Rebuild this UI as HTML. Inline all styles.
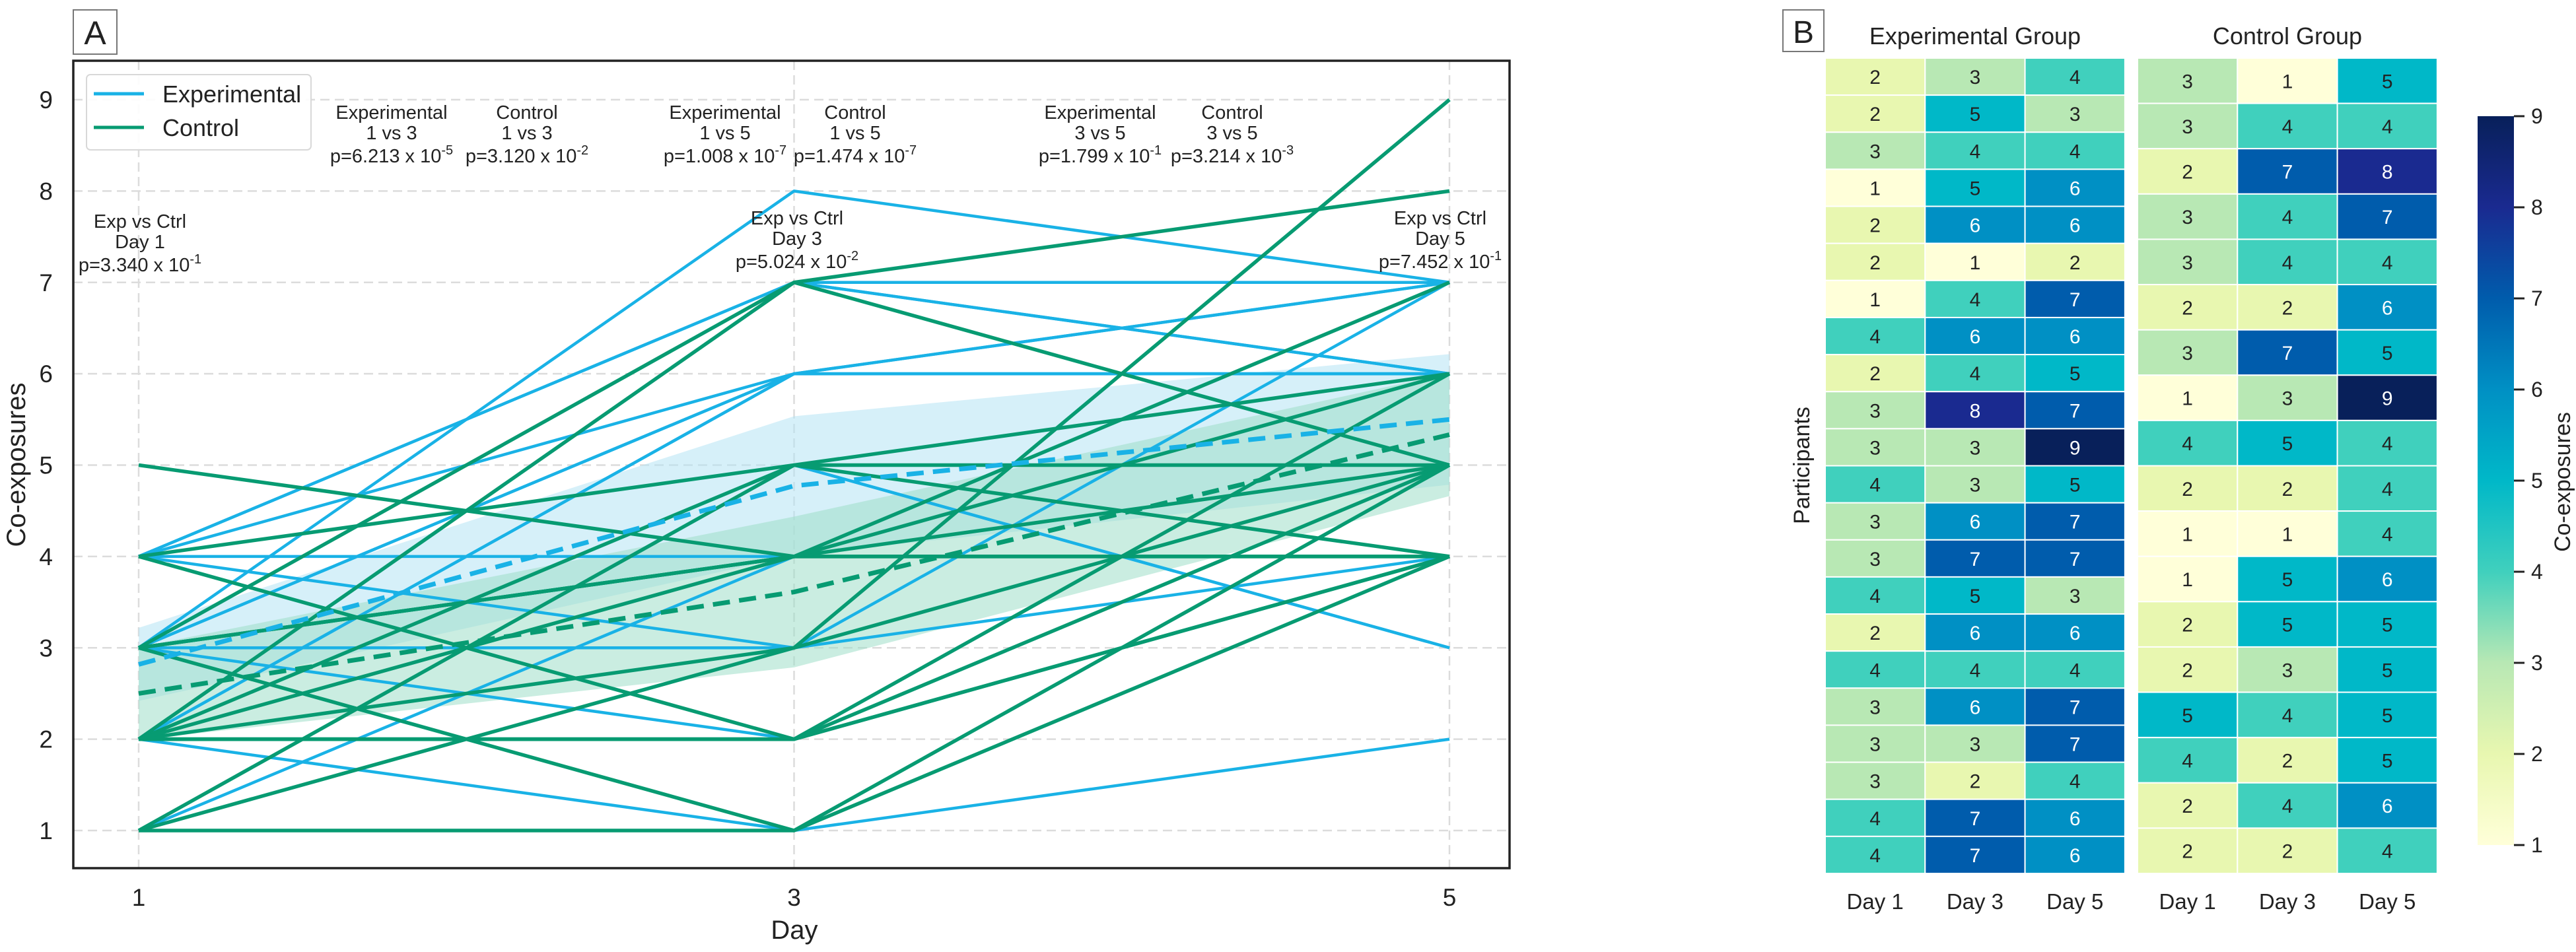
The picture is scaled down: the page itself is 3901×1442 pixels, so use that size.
<!DOCTYPE html>
<html><head><meta charset="utf-8"><style>
html,body{margin:0;padding:0;background:#fff;}
svg{display:block;font-family:"Liberation Sans",Arial,sans-serif;}
</style></head><body>
<svg id="fig" xmlns="http://www.w3.org/2000/svg" width="3901" height="1442" viewBox="0 0 3901 1442">
<rect width="3901" height="1442" fill="#fff"/>
</svg>
<script>
// ---- data ----
const days = [1, 3, 5];
const expDay1 = [2,2,3,1,2,2,1,4,2,3,3,4,3,3,4,2,4,3,3,3,4,4];
const expDay3 = [3,5,4,5,6,1,4,6,4,8,3,3,6,7,5,6,4,6,3,2,7,7];
const expDay5 = [4,3,4,6,6,2,7,6,5,7,9,5,7,7,3,6,4,7,7,4,6,6];
const ctrlDay1 = [3,3,2,3,3,2,3,1,4,2,1,1,2,2,5,4,2,2];
const ctrlDay3 = [1,4,7,4,4,2,7,3,5,2,1,5,5,3,4,2,4,2];
const ctrlDay5 = [5,4,8,7,4,6,5,9,4,4,4,6,5,5,5,5,6,4];
const yTicks = [1,2,3,4,5,6,7,8,9];
const xTickLabels = ["1","3","5"];
const colTickLabels = ["Day 1","Day 3","Day 5"];
const cbTicks = [1,2,3,4,5,6,7,8,9];
const annotTop = [
  ["Experimental","1 vs 3","6.213","-5"],["Control","1 vs 3","3.120","-2"],
  ["Experimental","1 vs 5","1.008","-7"],["Control","1 vs 5","1.474","-7"],
  ["Experimental","3 vs 5","1.799","-1"],["Control","3 vs 5","3.214","-3"]];
const annotDay = [["Day 1","3.340","-1"],["Day 3","5.024","-2"],["Day 5","7.452","-1"]];

const NS="http://www.w3.org/2000/svg";
const svg=document.getElementById('fig');
function mk(tag,attrs,parent){const e=document.createElementNS(NS,tag);for(const k in attrs)e.setAttribute(k,attrs[k]);(parent||svg).appendChild(e);return e;}
// axes scales
const L=111,R=2286,T=92,B=1315;
const xS=d=>210+(d-1)*(2195-210)/4;
const yS=v=>1258-(v-1)*(1258-151)/8;
const EXP="#19b2e6", CTRL="#079b72";

// panel A label
let g=mk('g',{});


mk('rect',{x:111,y:15,width:66,height:67,fill:'#fff',stroke:'#777','stroke-width':2},g);
let t=mk('text',{x:144,y:67,'font-size':50,'text-anchor':'middle',fill:'#222'},g);t.textContent='A';

// grid
const grid=mk('g',{});


yTicks.forEach(v=>{mk('line',{x1:L,x2:R,y1:yS(v),y2:yS(v),stroke:'#dcdcdc','stroke-width':2.5,'stroke-dasharray':'14,8'},grid);});
days.forEach(d=>{mk('line',{x1:xS(d),x2:xS(d),y1:T,y2:B,stroke:'#dcdcdc','stroke-width':2.5,'stroke-dasharray':'14,8'},grid);});

// stats
function stats(arr){const n=arr.length,m=arr.reduce((a,b)=>a+b,0)/n;const sd=Math.sqrt(arr.reduce((a,b)=>a+(b-m)*(b-m),0)/(n-1));return [m,1.96*sd/Math.sqrt(n)];}
const expCols=[expDay1,expDay3,expDay5], ctrlCols=[ctrlDay1,ctrlDay3,ctrlDay5];
function band(cols,fill,name){const s=cols.map(stats);
  let d='M'+days.map((dd,i)=>xS(dd)+','+yS(s[i][0]+s[i][1])).join('L')+'L'+days.slice().reverse().map((dd,j)=>{const i=2-j;return xS(dd)+','+yS(s[i][0]-s[i][1]);}).join('L')+'Z';
  const p=mk('path',{d:d,fill:fill,'fill-opacity':0.55});
  
  
  return s;}
const sE=band(expCols,'#b5e4f4','experimental-ci-band');
const sC=band(ctrlCols,'#9fdfc9','control-ci-band');

// individual lines
function lines(cols,color,w,name){const gg=mk('g',{});
  
  
  for(let i=0;i<cols[0].length;i++){const pl=mk('polyline',{points:days.map((d,k)=>xS(d)+','+yS(cols[k][i])).join(' '),fill:'none',stroke:color,'stroke-width':w,'stroke-linejoin':'round'},gg);
    
    }}
lines(expCols,EXP,4.5,'experimental-lines');
lines(ctrlCols,CTRL,5.5,'control-lines');
// mean lines
function meanLine(s,color,name){const p=mk('polyline',{points:days.map((d,i)=>xS(d)+','+yS(s[i][0])).join(' '),fill:'none',stroke:color,'stroke-width':7,'stroke-dasharray':'26,14'});
  
  }
meanLine(sE,EXP,'experimental-mean-line');
meanLine(sC,CTRL,'control-mean-line');

// frame
const fr=mk('rect',{x:L,y:T,width:R-L,height:B-T,fill:'none',stroke:'#222','stroke-width':3.5});



// y ticks
yTicks.forEach(v=>{const tt=mk('text',{x:80,y:yS(v)+13,'font-size':37,'text-anchor':'end',fill:'#222'});tt.textContent=v;
  
  });
days.forEach((d,i)=>{const tt=mk('text',{x:xS(d),y:1372,'font-size':37,'text-anchor':'middle',fill:'#222'});tt.textContent=xTickLabels[i];
  
  });
t=mk('text',{x:1203,y:1422,'font-size':40,'text-anchor':'middle',fill:'#222'});t.textContent='Day';


t=mk('text',{x:0,y:0,'font-size':40,'text-anchor':'middle',fill:'#222',transform:'translate(38,704) rotate(-90)'});t.textContent='Co-exposures';



// legend
const lg=mk('g',{});


mk('rect',{x:131,y:113,width:340,height:114,rx:6,fill:'#fff','fill-opacity':0.9,stroke:'#d8d8d8','stroke-width':2},lg);
[['Experimental',EXP,142],['Control',CTRL,193]].forEach(([lab,c,y])=>{
  const e=mk('g',{},lg);
  
  
  mk('line',{x1:142,x2:218,y1:y,y2:y,stroke:c,'stroke-width':5},e);
  const tx=mk('text',{x:246,y:y+13,'font-size':36,fill:'#222'},e);tx.textContent=lab;});

// annotations
function sup(el,base,exp){const a=document.createElementNS(NS,'tspan');a.textContent='p='+base+' x 10';el.appendChild(a);
  const b=document.createElementNS(NS,'tspan');b.setAttribute('font-size','20');b.setAttribute('dy','-12');b.textContent=exp;el.appendChild(b);}
const topX=[593,798,1098,1295,1666,1866];
annotTop.forEach((a,i)=>{const ag=mk('g',{'font-size':29,'text-anchor':'middle',fill:'#222'});
  
  
  let x=mk('text',{x:topX[i],y:180},ag);x.textContent=a[0];
  x=mk('text',{x:topX[i],y:211},ag);x.textContent=a[1];
  x=mk('text',{x:topX[i],y:246},ag);sup(x,a[2],a[3]);});
const dayAX=[212,1207,2181], dayAY=[345,340,340];
annotDay.forEach((a,i)=>{const ag=mk('g',{'font-size':29,'text-anchor':'middle',fill:'#222'});
  
  
  let x=mk('text',{x:dayAX[i],y:dayAY[i]},ag);x.textContent='Exp vs Ctrl';
  x=mk('text',{x:dayAX[i],y:dayAY[i]+31},ag);x.textContent=a[0];
  x=mk('text',{x:dayAX[i],y:dayAY[i]+66},ag);sup(x,a[1],a[2]);});

// ---- panel B ----
g=mk('g',{});


mk('rect',{x:2700,y:15,width:62,height:63,fill:'#fff',stroke:'#777','stroke-width':2},g);
t=mk('text',{x:2731,y:65,'font-size':48,'text-anchor':'middle',fill:'#222'},g);t.textContent='B';

const stops=['#ffffd9','#e8f7b0','#b8e8b4','#40d0bd','#00b8c8','#0090c4','#005cac','#1a2a90','#08205a'];
function col(v){return stops[Math.max(0,Math.min(8,Math.round(v)-1))];}
const HT=88,HB=1323;
function heat(cols,x0,name,title){const hg=mk('g',{});
  
  
  const n=cols[0].length,cw=151.3,rh=(HB-HT)/n;
  const tt=mk('text',{x:x0+cw*1.5,y:67,'font-size':36,'text-anchor':'middle',fill:'#222'},hg);tt.textContent=title;
  for(let c=0;c<3;c++)for(let r=0;r<n;r++){const v=cols[c][r];
    const cell=mk('rect',{x:x0+c*cw,y:HT+r*rh,width:cw,height:rh,fill:col(v),stroke:'#fff','stroke-width':2},hg);
    
    
    const tx=mk('text',{x:x0+c*cw+cw/2,y:HT+r*rh+rh/2+11,'font-size':30,'text-anchor':'middle',fill:v>=6?'#fff':'#222'},hg);tx.textContent=v;}
  for(let c=0;c<3;c++){const tx=mk('text',{x:x0+c*cw+cw/2,y:1377,'font-size':33,'text-anchor':'middle',fill:'#222'},hg);tx.textContent=colTickLabels[c];}}
heat(expCols,2764,'experimental-heatmap','Experimental Group');
heat(ctrlCols,3237,'control-heatmap','Control Group');
t=mk('text',{x:0,y:0,'font-size':34,'text-anchor':'middle',fill:'#222',transform:'translate(2740,705) rotate(-90)'});t.textContent='Participants';



// colorbar
const CT=176,CB=1280;
const cby=v=>CB-(v-1)*(CB-CT)/8;
const defs=mk('defs',{});
const grad=mk('linearGradient',{id:'cbg',x1:0,y1:1,x2:0,y2:0},defs);
stops.forEach((c,i)=>mk('stop',{offset:(i/8),'stop-color':c},grad));
const cb=mk('g',{});


mk('rect',{x:3752,y:CT,width:55,height:CB-CT,fill:'url(#cbg)'},cb);
cbTicks.forEach(v=>{mk('line',{x1:3807,x2:3823,y1:cby(v),y2:cby(v),stroke:'#222','stroke-width':3},cb);
  const tx=mk('text',{x:3833,y:cby(v)+11,'font-size':32,fill:'#222'},cb);tx.textContent=v;});
t=mk('text',{x:0,y:0,'font-size':34,'text-anchor':'middle',fill:'#222',transform:'translate(3892,730) rotate(-90)'},cb);t.textContent='Co-exposures';
</script>
</body></html>
